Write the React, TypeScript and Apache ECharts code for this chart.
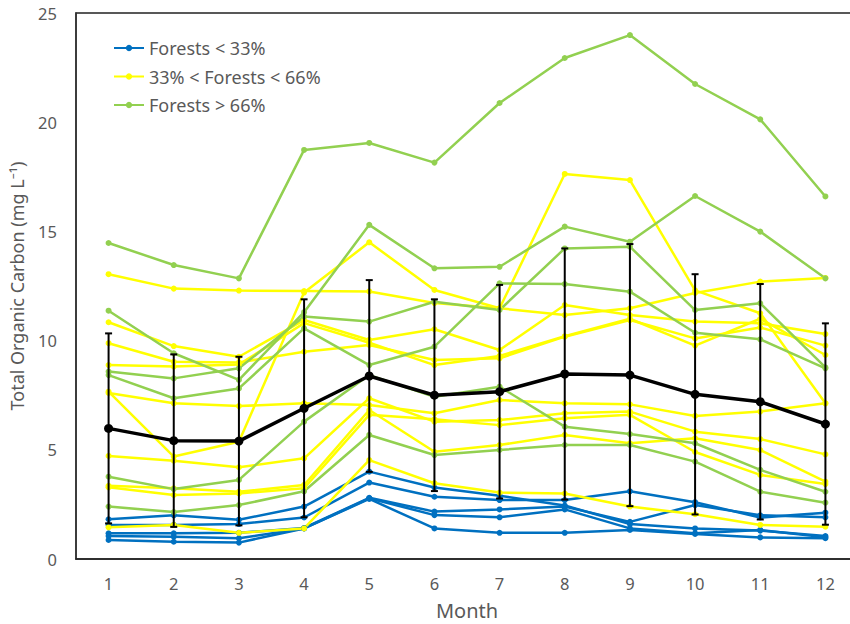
import React, { useEffect, useRef } from "react";
import * as echarts from "echarts";

const months = ["1", "2", "3", "4", "5", "6", "7", "8", "9", "10", "11", "12"];

const blue1 = [1.82, 2.0, 1.8, 2.4, 4.0, 3.27, 2.9, 2.45, 1.6, 1.4, 1.3, 1.05];
const blue2 = [1.56, 1.56, 1.6, 1.9, 3.5, 2.85, 2.7, 2.7, 3.1, 2.6, 1.9, 2.12];
const blue3 = [1.18, 1.18, 1.2, 1.42, 2.8, 2.17, 2.27, 2.4, 1.7, 2.47, 2.0, 1.91];
const blue4 = [1.05, 1.02, 0.95, 1.4, 2.78, 2.01, 1.91, 2.27, 1.4, 1.18, 1.33, 1.0];
const blue5 = [0.87, 0.79, 0.75, 1.4, 2.75, 1.4, 1.2, 1.2, 1.33, 1.15, 0.99, 0.95];

const yellow1 = [13.04, 12.38, 12.29, 12.27, 12.25, 11.72, 11.48, 11.17, 11.48, 12.18, 12.7, 12.87];
const yellow2 = [7.66, 4.69, 5.37, 12.2, 14.5, 12.32, 11.48, 17.63, 17.35, 12.3, 11.25, 7.13];
const yellow3 = [10.84, 9.75, 9.26, 10.94, 10.03, 10.52, 9.57, 11.63, 11.17, 10.87, 10.79, 10.3];
const yellow4 = [9.88, 9.03, 9.0, 9.49, 9.8, 9.11, 9.19, 10.18, 10.94, 10.1, 10.6, 9.77];
const yellow5 = [8.88, 8.81, 8.9, 10.8, 9.9, 8.88, 9.3, 10.2, 11.0, 9.77, 11.0, 9.34];
const yellow6 = [7.6, 7.13, 7.0, 7.13, 7.05, 6.67, 7.28, 7.13, 7.08, 6.55, 6.75, 7.13];
const yellow7 = [4.72, 4.5, 4.2, 4.61, 7.36, 6.29, 6.36, 6.67, 6.75, 5.83, 5.49, 4.79];
const yellow8 = [3.35, 3.24, 3.08, 3.39, 6.82, 4.91, 5.22, 5.68, 5.3, 5.53, 4.99, 3.54];
const yellow9 = [3.28, 2.93, 3.0, 3.24, 6.6, 6.4, 6.13, 6.44, 6.6, 4.9, 3.85, 3.43];
const yellow10 = [1.45, 1.56, 1.2, 1.4, 4.53, 3.47, 3.04, 3.0, 2.4, 2.05, 1.56, 1.48];

const green1 = [14.47, 13.46, 12.85, 18.73, 19.05, 18.15, 20.88, 22.94, 23.99, 21.75, 20.13, 16.6];
const green2 = [11.37, 9.42, 8.2, 11.3, 15.3, 13.31, 13.38, 15.22, 14.53, 16.62, 14.99, 12.85];
const green3 = [8.58, 8.27, 8.73, 11.1, 10.87, 11.78, 11.4, 14.22, 14.3, 11.4, 11.71, 8.77];
const green4 = [8.42, 7.36, 7.81, 10.56, 8.88, 9.72, 12.62, 12.59, 12.24, 10.36, 10.06, 8.73];
const green5 = [3.77, 3.2, 3.62, 6.29, 8.42, 7.43, 7.89, 6.06, 5.72, 5.3, 4.08, 3.08];
const green6 = [2.4, 2.15, 2.47, 3.1, 5.68, 4.76, 4.99, 5.22, 5.22, 4.46, 3.08, 2.58];

const meanValues = [5.98, 5.42, 5.4, 6.9, 8.38, 7.5, 7.66, 8.47, 8.42, 7.54, 7.2, 6.18];
const sdValues = [4.35, 3.95, 3.86, 4.99, 4.39, 4.39, 4.89, 5.75, 6.0, 5.5, 5.39, 4.61];

const outlierMonths = ["7", "8", "9"];
const outlierValues = [0.49, 0.44, 0.49];

const legendNames = ["Forests < 33%", "33% < Forests < 66%", "Forests > 66%"];
const yTicks = { min: 0, max: 25, interval: 5 };

const BLUE = "#0070C0";
const YELLOW = "#FFFF00";
const GREEN = "#92D050";

export default function App() {
  const ref = useRef<HTMLDivElement>(null);
  useEffect(() => {
    if (!ref.current) return;
    const chart = echarts.init(ref.current, null, { renderer: "svg" });
    const mk = (name: string, color: string, data: number[]) => ({
      name,
      type: "line",
      data,
      symbol: "circle",
      symbolSize: 6,
      lineStyle: { color, width: 2.5 },
      itemStyle: { color },
      z: 2,
    });
    const series: any[] = [];
    [blue1, blue2, blue3, blue4, blue5].forEach((d) => series.push(mk(legendNames[0], BLUE, d)));
    [yellow1, yellow2, yellow3, yellow4, yellow5, yellow6, yellow7, yellow8, yellow9, yellow10].forEach((d) =>
      series.push(mk(legendNames[1], YELLOW, d))
    );
    [green1, green2, green3, green4, green5, green6].forEach((d) => series.push(mk(legendNames[2], GREEN, d)));
    series.push({
      name: "errors",
      type: "custom",
      z: 5,
      data: meanValues.map((m, i) => [i, m, sdValues[i]]),
      encode: { x: 0, y: 1 },
      renderItem: (params: any, api: any) => {
        const x = api.value(0);
        const m = api.value(1);
        const s = api.value(2);
        const top = api.coord([x, m + s]);
        const bot = api.coord([x, m - s]);
        const hw = 3.5;
        const st = { stroke: "#000", lineWidth: 2 };
        return {
          type: "group",
          children: [
            { type: "line", shape: { x1: top[0], y1: top[1], x2: bot[0], y2: bot[1] }, style: st },
            { type: "line", shape: { x1: top[0] - hw, y1: top[1], x2: top[0] + hw, y2: top[1] }, style: st },
            { type: "line", shape: { x1: bot[0] - hw, y1: bot[1], x2: bot[0] + hw, y2: bot[1] }, style: st },
          ],
        };
      },
    });
    series.push({
      name: "mean",
      type: "line",
      data: meanValues,
      symbol: "circle",
      symbolSize: 9,
      lineStyle: { color: "#000", width: 3.5 },
      itemStyle: { color: "#000" },
      z: 6,
    });
    series.push({
      name: "outliers",
      type: "scatter",
      data: outlierMonths.map((m, i) => [m, outlierValues[i]]),
      symbol: "emptyCircle",
      symbolSize: 10,
      itemStyle: { color: "#fff", borderColor: "#000", borderWidth: 2 },
      z: 6,
    });

    chart.setOption({
      animation: false,
      backgroundColor: "#fff",
      textStyle: { fontFamily: "Noto Sans" },
      legend: {
        data: legendNames,
        orient: "vertical",
        left: 108,
        top: 34,
        itemWidth: 30,
        itemHeight: 8,
        itemGap: 10.5,
        textStyle: { fontSize: 18, color: "#595959", fontFamily: "Noto Sans" },
        selectedMode: false,
      },
      grid: {
        left: 76,
        top: 13,
        width: 782,
        height: 546,
        containLabel: false,
        outerBoundsMode: "none",
        show: true,
        borderColor: "#222",
        borderWidth: 1.5,
        backgroundColor: "transparent",
      },
      xAxis: {
        type: "category",
        data: months,
        boundaryGap: true,
        axisLine: { lineStyle: { color: "#222", width: 1.5 } },
        axisTick: { show: false },
        axisLabel: { fontSize: 16.5, color: "#595959", margin: 16, fontFamily: "Noto Sans" },
        name: "Month",
        nameLocation: "middle",
        nameGap: 41,
        nameTextStyle: { fontSize: 20, color: "#595959", fontFamily: "Noto Sans" },
        splitLine: { show: false },
      },
      yAxis: {
        type: "value",
        min: yTicks.min,
        max: yTicks.max,
        interval: yTicks.interval,
        axisLine: { show: true, lineStyle: { color: "#333", width: 1.5 } },
        axisTick: { show: false },
        splitLine: { show: false },
        axisLabel: { fontSize: 16.5, color: "#595959", margin: 19, fontFamily: "Noto Sans" },
        name: "Total Organic Carbon (mg L\u207B\u00B9)",
        nameLocation: "middle",
        nameGap: 50,
        nameRotate: 90,
        nameTextStyle: { fontSize: 18, color: "#595959", fontFamily: "Noto Sans" },
      },
      series,
    });
    return () => chart.dispose();
  }, []);
  return (
    <div style={{ position: "fixed", left: 0, top: 0, width: 850, height: 624, overflow: "hidden" }}>
      <div ref={ref} style={{ width: 850, height: 624 }} />
    </div>
  );
}
